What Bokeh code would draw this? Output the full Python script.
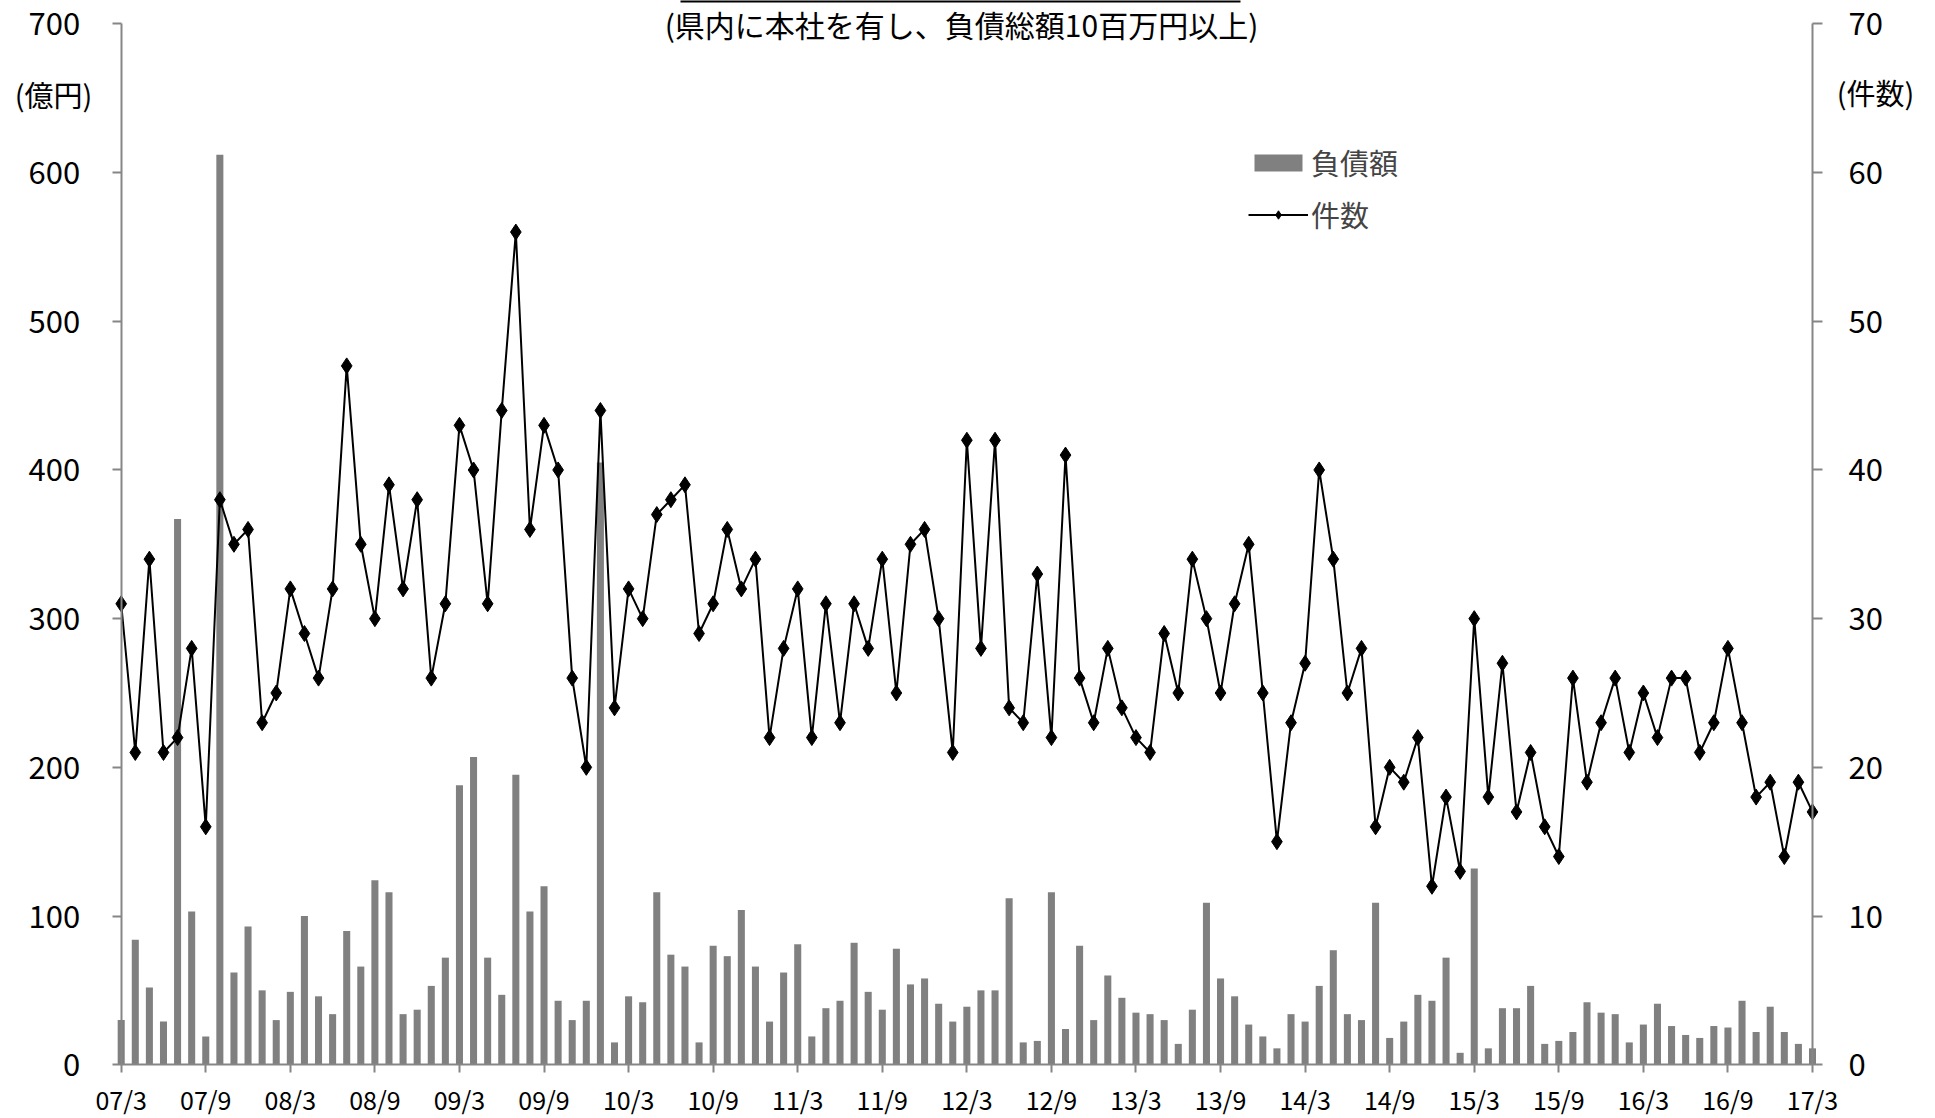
from bokeh.plotting import figure
from bokeh.models import Range1d, LinearAxis, FixedTicker, Legend, LegendItem, Label, Arrow
from bokeh.embed import file_html
from bokeh.resources import INLINE

# ---- data (monthly, 2007/3 .. 2017/3) ----
months = list(range(121))
debt = [30, 84, 52, 29, 367, 103, 19, 612, 62, 93,
        50, 30, 49, 100, 46, 34, 90, 66, 124, 116,
        34, 37, 53, 72, 188, 207, 72, 47, 195, 103,
        120, 43, 30, 43, 405, 15, 46, 42, 116, 74,
        66, 15, 80, 73, 104, 66, 29, 62, 81, 19,
        38, 43, 82, 49, 37, 78, 54, 58, 41, 29,
        39, 50, 50, 112, 15, 16, 116, 24, 80, 30,
        60, 45, 35, 34, 30, 14, 37, 109, 58, 46,
        27, 19, 11, 34, 29, 53, 77, 34, 30, 109,
        18, 29, 47, 43, 72, 8, 132, 11, 38, 38,
        53, 14, 16, 22, 42, 35, 34, 15, 27, 41,
        26, 20, 18, 26, 25, 43, 22, 39, 22, 14,
        11]
count = [31, 21, 34, 21, 22, 28, 16, 38, 35, 36,
         23, 25, 32, 29, 26, 32, 47, 35, 30, 39,
         32, 38, 26, 31, 43, 40, 31, 44, 56, 36,
         43, 40, 26, 20, 44, 24, 32, 30, 37, 38,
         39, 29, 31, 36, 32, 34, 22, 28, 32, 22,
         31, 23, 31, 28, 34, 25, 35, 36, 30, 21,
         42, 28, 42, 24, 23, 33, 22, 41, 26, 23,
         28, 24, 22, 21, 29, 25, 34, 30, 25, 31,
         35, 25, 15, 23, 27, 40, 34, 25, 28, 16,
         20, 19, 22, 12, 18, 13, 30, 18, 27, 17,
         21, 16, 14, 26, 19, 23, 26, 21, 25, 22,
         26, 26, 21, 23, 28, 23, 18, 19, 14, 19,
         17]
tick_pos = list(range(0, 121, 6))
tick_labels = ["07/3", "07/9", "08/3", "08/9", "09/3", "09/9", "10/3", "10/9",
               "11/3", "11/9", "12/3", "12/9", "13/3", "13/9", "14/3", "14/9",
               "15/3", "15/9", "16/3", "16/9", "17/3"]
left_ticks = [0, 100, 200, 300, 400, 500, 600, 700]
right_ticks = [0, 10, 20, 30, 40, 50, 60, 70]

FONT = "Noto Sans CJK JP"
AXIS_GRAY = "#868686"

# canvas 1935x1118; axes sit at fixed data locations inside the frame
PX_X = (1812.0 - 120.7) / 120.0
PX_Y = (1064.2 - 23.4) / 700.0
x0 = -120.7 / PX_X
x1 = 120 + (1935 - 1812.0) / PX_X
y0 = -(1118 - 1064.2) / PX_Y
y1 = 700 + 23.4 / PX_Y

p = figure(width=1935, height=1118, x_range=Range1d(x0, x1), y_range=Range1d(y0, y1),
           output_backend="svg", toolbar_location=None,
           min_border_left=0, min_border_right=0, min_border_top=0, min_border_bottom=0)
p.extra_y_ranges = {"cnt": Range1d(y0 / 10.0, y1 / 10.0)}
p.outline_line_color = None
p.xgrid.visible = False
p.ygrid.visible = False
p.background_fill_color = "white"
p.border_fill_color = "white"

bars = p.vbar(x=months, top=debt, width=0.5, fill_color="#808080", line_color=None)
ln = p.line(x=months, y=count, y_range_name="cnt", line_color="black", line_width=2)
sc = p.scatter(x=months, y=count, y_range_name="cnt", marker="diamond", size=16,
               fill_color="black", line_color="black")


def style_axis(ax, tick_out, standoff, font_size):
    ax.minor_tick_line_color = None
    ax.major_tick_in = 0
    ax.major_tick_out = tick_out
    ax.axis_line_color = AXIS_GRAY
    ax.axis_line_width = 2
    ax.major_tick_line_color = AXIS_GRAY
    ax.major_tick_line_width = 2
    ax.major_label_text_font = FONT
    ax.major_label_text_font_size = font_size
    ax.major_label_text_color = "black"
    ax.major_label_standoff = standoff


# x axis
xa = p.xaxis[0]
xa.ticker = FixedTicker(ticks=tick_pos)
xa.major_label_overrides = {t: l for t, l in zip(tick_pos, tick_labels)}
xa.fixed_location = 0
xa.bounds = (0, 120)
style_axis(xa, 8, 8, "25px")

# left axis
ya = p.yaxis[0]
ya.ticker = FixedTicker(ticks=left_ticks)
ya.fixed_location = 0
ya.bounds = (0, 700)
style_axis(ya, 9, 32, "31px")

# right axis
ra = LinearAxis(y_range_name="cnt", ticker=FixedTicker(ticks=right_ticks))
ra.fixed_location = 120
ra.bounds = (0, 70)
style_axis(ra, 10, 26, "31px")
p.add_layout(ra, "right")

# texts
p.add_layout(Label(x=(961 - 120.7) / PX_X, y=(1064.2 - 23) / PX_Y,
                   text="(県内に本社を有し、負債総額10百万円以上)",
                   text_align="center", text_baseline="middle",
                   text_font=FONT, text_font_size="30px", text_color="black"))
p.add_layout(Label(x=(53 - 120.7) / PX_X, y=(1064.2 - 93) / PX_Y, text="(億円)",
                   text_align="center", text_baseline="middle",
                   text_font=FONT, text_font_size="29px", text_color="black"))
p.add_layout(Label(x=(1875 - 120.7) / PX_X, y=(1064.2 - 91) / PX_Y, text="(件数)",
                   text_align="center", text_baseline="middle",
                   text_font=FONT, text_font_size="29px", text_color="black"))
p.add_layout(Arrow(end=None, x_start=(680 - 120.7) / PX_X, y_start=(1064.2 - 0.5) / PX_Y,
                   x_end=(1240 - 120.7) / PX_X, y_end=(1064.2 - 0.5) / PX_Y,
                   line_color="black", line_width=3))

legend = Legend(items=[LegendItem(label="負債額", renderers=[bars]),
                       LegendItem(label="件数", renderers=[ln, sc])],
                location=(1248, 883), orientation="vertical",
                border_line_color=None, background_fill_alpha=0,
                padding=0, margin=0, spacing=10,
                glyph_width=60, glyph_height=21, label_height=30, label_standoff=3,
                label_text_font=FONT, label_text_font_size="29px")
p.add_layout(legend)

open("out.html", "w").write(file_html(p, INLINE))
